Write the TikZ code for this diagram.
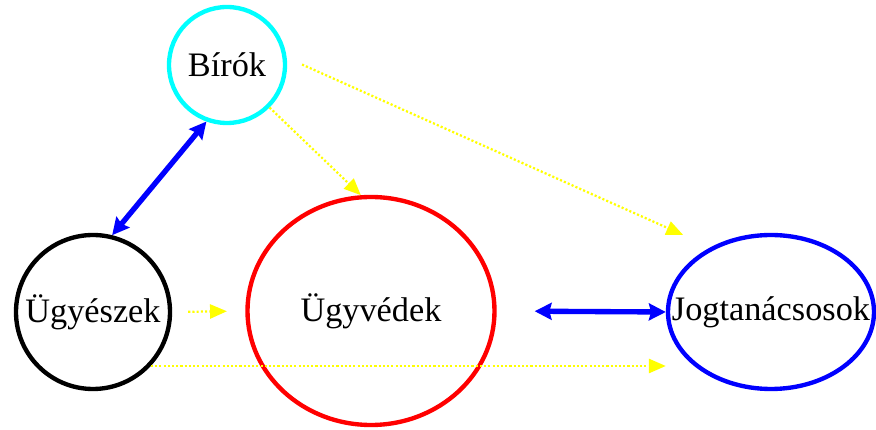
\documentclass[tikz,border=0pt]{standalone}
\usepackage{fontspec}
\setmainfont{Liberation Serif}
\usetikzlibrary{arrows.meta,shapes.geometric}

\definecolor{aqua}{RGB}{0,255,255}
\definecolor{lemon}{RGB}{255,255,0}
\tikzstyle{group}=[draw, line width=3.1pt, inner sep=0pt, font=\fontsize{24.4}{29}\selectfont]
\tikzstyle{mutual}=[{Stealth[length=12pt,width=12pt,inset=1.5pt]}-{Stealth[length=12pt,width=12pt,inset=1.5pt]},blue,line width=3.8pt]
\tikzstyle{influence}=[-{Triangle[length=12pt,width=10pt]},lemon,line width=1.6pt,dash pattern=on 1.5pt off 1.5pt]

\begin{document}
\begin{tikzpicture}
\useasboundingbox (0,0) rectangle (21.9,-10.75);
\node[group, circle, draw=aqua, minimum size=2.9cm]  (B) at (5.675,-1.625) {Bírók};
\node[group, circle, draw=black, minimum size=3.85cm] (U) at (2.325,-7.8) {Ügyészek};
\node[group, ellipse, draw=red, minimum width=6.175cm, minimum height=5.7cm] (V) at (9.275,-7.775) {Ügyvédek};
\node[group, ellipse, draw=blue, minimum width=5.15cm, minimum height=3.85cm] (J) at (19.275,-7.8) {\makebox[0pt]{Jogtanácsosok}}; % text wider than the ellipse
\draw[mutual] (B.250) -- (U.76);
\draw[mutual, shorten <=0.95cm] (V.east) -- (J.west);
\draw[influence] (B.-45) -- (V.95);
\draw[influence, shorten <=0.42cm, shorten >=0.75cm] (B.7) -- (J.133);
\draw[influence, shorten <=0.4cm, shorten >=0.46cm] (U.east) -- (V.west);
\draw[influence] (U.-43.5) -- (U.-43.5 -| J.west);
\end{tikzpicture}
\end{document}
